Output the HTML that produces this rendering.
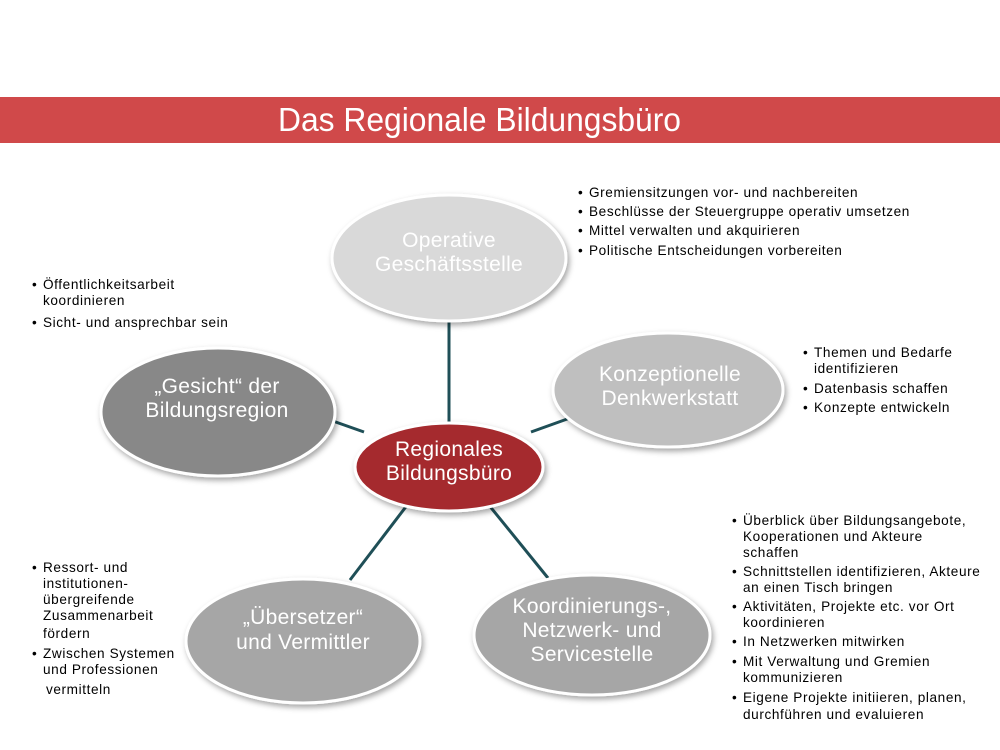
<!DOCTYPE html>
<html><head><meta charset="utf-8"><style>
html,body{margin:0;padding:0;background:#fff;}
svg{display:block;font-family:"Liberation Sans",Arial,sans-serif;}
.l{font-size:13.6px;fill:#000;letter-spacing:0.6px;}
.n{font-size:21px;fill:#fff;text-anchor:middle;letter-spacing:0.3px;}
</style></head><body>
<svg width="1000" height="750" viewBox="0 0 1000 750">
<defs>
<filter id="sh" x="-20%" y="-20%" width="140%" height="150%"><feDropShadow dx="2" dy="3" stdDeviation="3" flood-color="#000" flood-opacity="0.35"/></filter>
</defs>
<rect x="0" y="97" width="1000" height="46" fill="#d0494a"/>
<text x="278" y="131" font-size="33" fill="#fff" textLength="403" lengthAdjust="spacingAndGlyphs">Das Regionale Bildungsbüro</text>
<g stroke="#1f4f57" stroke-width="3">
<line x1="449" y1="320" x2="449" y2="426"/>
<line x1="330" y1="420" x2="364" y2="432"/>
<line x1="531" y1="432" x2="570" y2="418"/>
<line x1="408" y1="504" x2="350" y2="580"/>
<line x1="488" y1="504" x2="548" y2="578"/>
</g>
<g stroke="#fff" stroke-width="3" filter="url(#sh)">
<ellipse cx="449" cy="258" rx="117" ry="63" fill="#d9d9d9"/>
<ellipse cx="218" cy="412" rx="117" ry="64" fill="#888888"/>
<ellipse cx="668" cy="390" rx="115" ry="57" fill="#bfbfbf"/>
<ellipse cx="303" cy="641" rx="117" ry="62" fill="#a6a6a6"/>
<ellipse cx="592" cy="635" rx="118" ry="60" fill="#a6a6a6"/>
<ellipse cx="449" cy="467" rx="94" ry="44" fill="#a52a2f"/>
</g>
<text class="n" x="449" y="247">Operative</text>
<text class="n" x="449" y="271">Geschäftsstelle</text>
<text class="n" x="217" y="393">„Gesicht“ der</text>
<text class="n" x="217" y="417">Bildungsregion</text>
<text class="n" x="670" y="381">Konzeptionelle</text>
<text class="n" x="670" y="405">Denkwerkstatt</text>
<text class="n" x="449" y="456">Regionales</text>
<text class="n" x="449" y="480">Bildungsbüro</text>
<text class="n" x="303" y="624">„Übersetzer“</text>
<text class="n" x="303" y="649">und Vermittler</text>
<text class="n" x="592" y="613">Koordinierungs-,</text>
<text class="n" x="592" y="637">Netzwerk- und</text>
<text class="n" x="592" y="661">Servicestelle</text>

<g class="l">
<text x="578" y="197">•</text><text x="589" y="197">Gremiensitzungen vor- und nachbereiten</text>
<text x="578" y="216">•</text><text x="589" y="216">Beschlüsse der Steuergruppe operativ umsetzen</text>
<text x="578" y="235">•</text><text x="589" y="235">Mittel verwalten und akquirieren</text>
<text x="578" y="255">•</text><text x="589" y="255">Politische Entscheidungen vorbereiten</text>

<text x="32" y="289">•</text><text x="43" y="289">Öffentlichkeitsarbeit</text>
<text x="43" y="305">koordinieren</text>
<text x="32" y="327">•</text><text x="43" y="327">Sicht- und ansprechbar sein</text>

<text x="803" y="357">•</text><text x="814" y="357">Themen und Bedarfe</text>
<text x="814" y="373">identifizieren</text>
<text x="803" y="393">•</text><text x="814" y="393">Datenbasis schaffen</text>
<text x="803" y="412">•</text><text x="814" y="412">Konzepte entwickeln</text>

<text x="32" y="572">•</text><text x="43" y="572">Ressort- und</text>
<text x="43" y="588">institutionen-</text>
<text x="43" y="604">übergreifende</text>
<text x="43" y="620">Zusammenarbeit</text>
<text x="43" y="638">fördern</text>
<text x="32" y="658">•</text><text x="43" y="658">Zwischen Systemen</text>
<text x="43" y="674">und Professionen</text>
<text x="46" y="694">vermitteln</text>

<text x="732" y="525">•</text><text x="743" y="525">Überblick über Bildungsangebote,</text>
<text x="743" y="541">Kooperationen und Akteure</text>
<text x="743" y="557">schaffen</text>
<text x="732" y="576">•</text><text x="743" y="576">Schnittstellen identifizieren, Akteure</text>
<text x="743" y="592">an einen Tisch bringen</text>
<text x="732" y="611">•</text><text x="743" y="611">Aktivitäten, Projekte etc. vor Ort</text>
<text x="743" y="627">koordinieren</text>
<text x="732" y="646">•</text><text x="743" y="646">In Netzwerken mitwirken</text>
<text x="732" y="666">•</text><text x="743" y="666">Mit Verwaltung und Gremien</text>
<text x="743" y="682">kommunizieren</text>
<text x="732" y="702">•</text><text x="743" y="702">Eigene Projekte initiieren, planen,</text>
<text x="743" y="719">durchführen und evaluieren</text>
</g>
</svg>
</body></html>
